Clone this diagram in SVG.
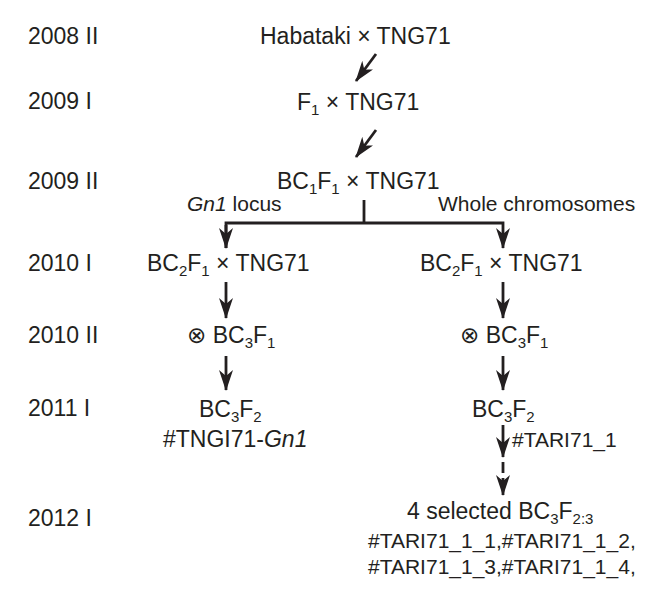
<svg xmlns="http://www.w3.org/2000/svg" width="659" height="594" viewBox="0 0 659 594">
<style>
text{font-family:"Liberation Sans","DejaVu Sans",Arial,sans-serif;font-size:23px;fill:#231f20}
.s{font-size:15px}
.m{font-size:21px}
.ln{stroke:#231f20;stroke-width:2.8;fill:none}
</style>
<defs>
<marker id="ah" markerUnits="userSpaceOnUse" markerWidth="21" markerHeight="14" viewBox="0 0 21 14" refX="20" refY="7" orient="auto">
<path d="M0,0 L21,7 L0,14 L6,7 z" fill="#231f20"/>
</marker>
</defs>
<rect width="659" height="594" fill="#fff"/>
<g id="years">
<text x="28" y="44">2008 II</text>
<text x="28" y="109">2009 I</text>
<text x="28" y="189">2009 II</text>
<text x="28" y="271">2010 I</text>
<text x="28" y="343">2010 II</text>
<text x="28" y="416">2011 I</text>
<text x="28" y="526">2012 I</text>
</g>
<g id="n1"><text x="260" y="44">Habataki × TNG71</text></g>
<g id="n2"><text x="297" y="110">F<tspan class="s" dy="5">1</tspan><tspan dy="-5"> × TNG71</tspan></text></g>
<g id="n3"><text x="277" y="189">BC<tspan class="s" dy="5">1</tspan><tspan dy="-5">F</tspan><tspan class="s" dy="5">1</tspan><tspan dy="-5"> × TNG71</tspan></text></g>
<g id="lab-left"><text class="m" x="187" y="211"><tspan font-style="italic">Gn1</tspan> locus</text></g>
<g id="lab-right"><text class="m" x="438" y="211">Whole chromosomes</text></g>
<g id="n4"><text x="147" y="271">BC<tspan class="s" dy="5">2</tspan><tspan dy="-5">F</tspan><tspan class="s" dy="5">1</tspan><tspan dy="-5"> × TNG71</tspan></text></g>
<g id="n5"><text x="420" y="271">BC<tspan class="s" dy="5">2</tspan><tspan dy="-5">F</tspan><tspan class="s" dy="5">1</tspan><tspan dy="-5"> × TNG71</tspan></text></g>
<g id="n6"><text x="187" y="343">⊗ BC<tspan class="s" dy="5">3</tspan><tspan dy="-5">F</tspan><tspan class="s" dy="5">1</tspan></text></g>
<g id="n7"><text x="460" y="343">⊗ BC<tspan class="s" dy="5">3</tspan><tspan dy="-5">F</tspan><tspan class="s" dy="5">1</tspan></text></g>
<g id="n8"><text x="199" y="417">BC<tspan class="s" dy="5">3</tspan><tspan dy="-5">F</tspan><tspan class="s" dy="5">2</tspan></text>
<text x="163" y="447">#TNGI71-<tspan font-style="italic">Gn1</tspan></text></g>
<g id="n9"><text x="472" y="417">BC<tspan class="s" dy="5">3</tspan><tspan dy="-5">F</tspan><tspan class="s" dy="5">2</tspan></text></g>
<g id="lab-tari"><text class="m" x="512" y="447">#TARI71_1</text></g>
<g id="n10"><text x="407" y="519">4 selected BC<tspan class="s" dy="5">3</tspan><tspan dy="-5">F</tspan><tspan class="s" dy="5">2:3</tspan></text>
<text class="m" x="368" y="548">#TARI71_1_1,#TARI71_1_2,</text>
<text class="m" x="368" y="574">#TARI71_1_3,#TARI71_1_4,</text></g>
<g id="connectors">
<line class="ln" x1="376" y1="54" x2="356" y2="81" marker-end="url(#ah)"/>
<line class="ln" x1="376" y1="130" x2="356" y2="157" marker-end="url(#ah)"/>
<line class="ln" x1="364" y1="200" x2="364" y2="223"/>
<polyline class="ln" points="226,248 226,223 503,223 503,248" marker-end="url(#ah)"/>
<line class="ln" x1="226" y1="225" x2="226" y2="248" marker-end="url(#ah)"/>
<line class="ln" x1="226" y1="282" x2="226" y2="318" marker-end="url(#ah)"/>
<line class="ln" x1="503" y1="282" x2="503" y2="318" marker-end="url(#ah)"/>
<line class="ln" x1="226" y1="356" x2="226" y2="390" marker-end="url(#ah)"/>
<line class="ln" x1="503" y1="356" x2="503" y2="390" marker-end="url(#ah)"/>
<line class="ln" x1="503" y1="425" x2="503" y2="457" marker-end="url(#ah)"/>
<line class="ln" x1="503" y1="462" x2="503" y2="473"/>
<line class="ln" x1="503" y1="478" x2="503" y2="495" marker-end="url(#ah)"/>
</g>
</svg>
